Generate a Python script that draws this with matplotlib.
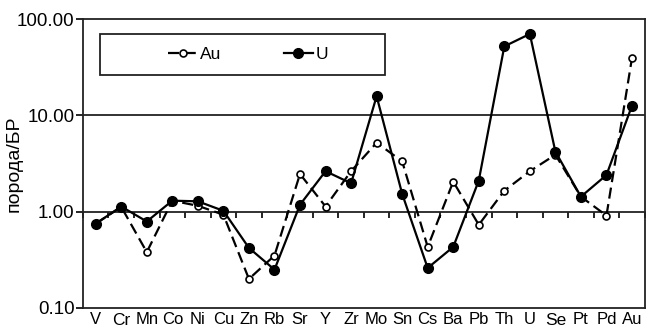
import numpy as np
import matplotlib
matplotlib.use('Agg')
import matplotlib.pyplot as plt
import matplotlib.transforms as mtransforms
from matplotlib.patches import Rectangle
from matplotlib.ticker import FixedLocator, NullLocator

plt.rcParams['font.family'] = ['Liberation Sans', 'DejaVu Sans']

elements = ['V', 'Cr', 'Mn', 'Co', 'Ni', 'Cu', 'Zn', 'Rb', 'Sr', 'Y', 'Zr', 'Mo',
            'Sn', 'Cs', 'Ba', 'Pb', 'Th', 'U', 'Se', 'Pt', 'Pd', 'Au']
au_vals = [0.75, 1.12, 0.38, 1.30, 1.15, 0.93, 0.20, 0.35, 2.46, 1.13, 2.63, 5.2,
           3.33, 0.43, 2.05, 0.73, 1.65, 2.63, 3.9, 1.43, 0.91, 39.5]
u_vals = [0.75, 1.13, 0.79, 1.30, 1.28, 1.02, 0.42, 0.25, 1.18, 2.63, 1.97, 15.8,
          1.53, 0.26, 0.43, 2.10, 52.0, 70.0, 4.2, 1.43, 2.40, 12.6]
y_ticks = [0.1, 1, 10, 100]

fig, ax = plt.subplots(figsize=(6.48, 3.34), dpi=100)
fig.subplots_adjust(left=0.128, right=0.995, top=0.943, bottom=0.078)

x = np.arange(len(elements))
ax.plot(x, au_vals, color='black', lw=1.6, dashes=(5, 2.5), marker='o', ms=5,
        mfc='white', mec='black', mew=1.2, label='Au', zorder=3)
ax.plot(x, u_vals, color='black', lw=1.6, marker='o', ms=7, mfc='black',
        mec='black', label='U', zorder=4)

ax.set_yscale('log')
ax.set_ylim(0.1, 100)
ax.set_xlim(-0.5, len(elements) - 0.5)
ax.yaxis.set_major_locator(FixedLocator(y_ticks))
ax.yaxis.set_minor_locator(NullLocator())
ax.set_yticklabels([f'{v:.2f}' for v in y_ticks], fontsize=13.5)
ax.tick_params(axis='y', direction='out', length=5, width=1.2, pad=1)
ax.axhline(10, color='#222222', lw=1.3, zorder=1)

# x axis line crossing at 1.00 with ticks between categories
ax.spines['bottom'].set_position(('data', 1))
ax.xaxis.set_major_locator(FixedLocator(np.arange(len(elements) + 1) - 0.5))
ax.xaxis.set_minor_locator(NullLocator())
ax.tick_params(axis='x', direction='out', length=4, width=1.2, labelbottom=False)

# category labels on the bottom frame
sec = ax.secondary_xaxis('bottom')
sec.set_xticks(x)
sec.set_xticklabels(elements, fontsize=12)
sec.tick_params(length=0, pad=3)
sec.spines['bottom'].set_linewidth(1.3)
sec.spines['bottom'].set_color('#222222')
for lbl in sec.get_xticklabels():
    if lbl.get_text() in ('Cr', 'Se'):
        lbl.set_transform(lbl.get_transform() +
                          mtransforms.ScaledTranslation(0, -0.8 / 72, fig.dpi_scale_trans))
        lbl.set_fontsize(12.5)

for s in ax.spines.values():
    s.set_linewidth(1.3)
    s.set_color('#222222')

ax.set_ylabel('порода/БР', fontsize=14)
ax.yaxis.set_label_coords(-0.108, 0.5)

# legend box
ax.add_patch(Rectangle((0.030, 0.806), 0.507, 0.142, transform=ax.transAxes,
                       fill=False, ec='#222222', lw=1.3, zorder=5))
ax.legend(loc='center', bbox_to_anchor=(0.294, 0.877), ncol=2, fontsize=12.5,
          frameon=False, handlelength=1.7, handletextpad=0.15, columnspacing=3.6,
          borderaxespad=0)

fig.savefig('out.png', dpi=100)
